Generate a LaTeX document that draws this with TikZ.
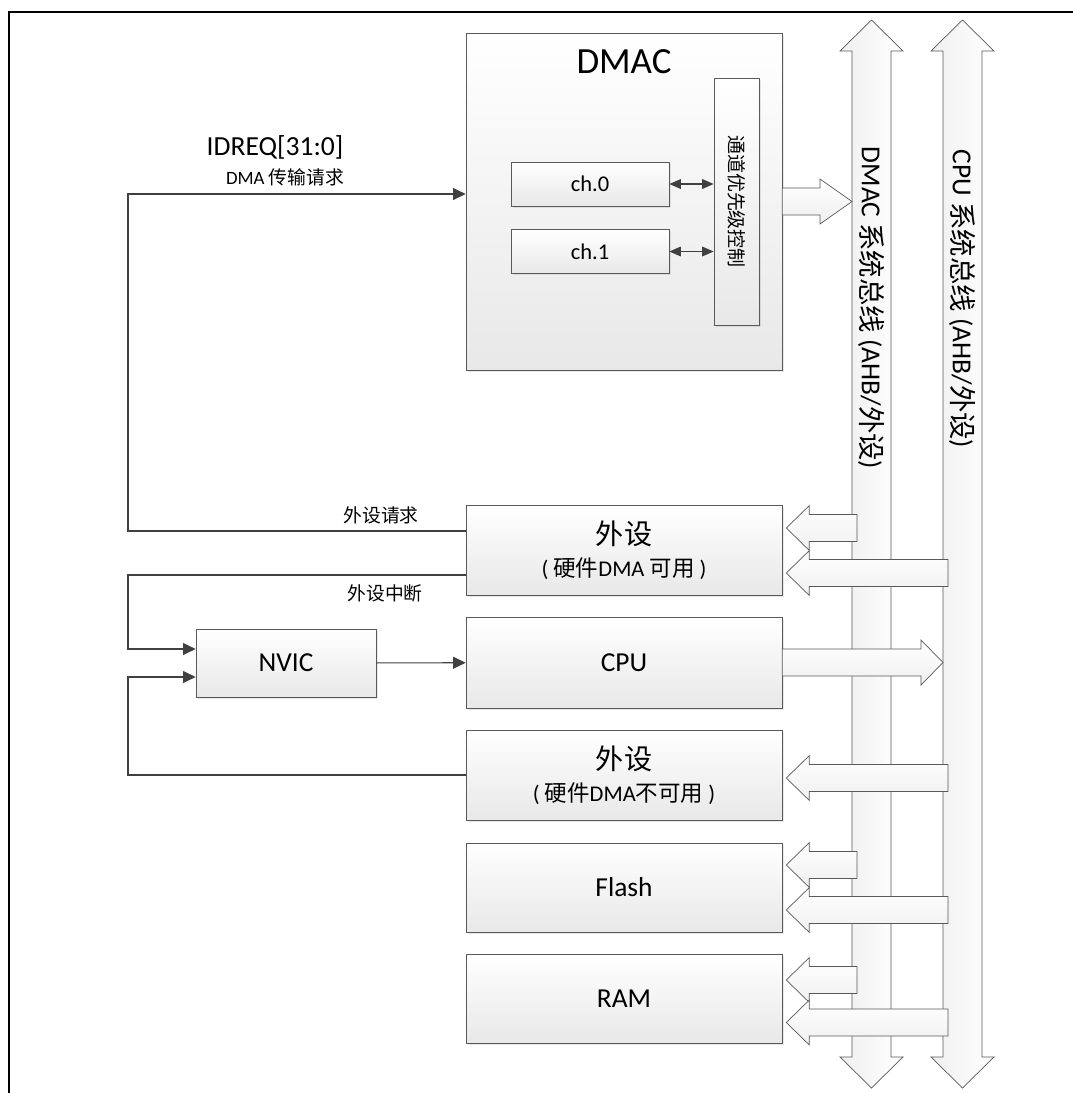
\documentclass[tikz,border=0pt]{standalone}
\usepackage{fontspec}
\setmainfont{Carlito}
\newfontfamily\cjk{Noto Sans CJK SC}
\usetikzlibrary{arrows.meta,calc,shadows}
\newcommand{\fsz}[1]{\fontsize{#1}{18}\selectfont}
% block arrow from a bus (#2) to the east side of a box (#1), #3 = offset from box centre
\newcommand{\busin}[3]{\draw[fat] let \p1=($(#1.east)+(4,#3)$), \p2=(#2) in
  (\p1) -- ++(23,-22.5) -- ++(0,9) -- ($(\x2,\y1)+(5,-13.5)$) -- ($(\x2,\y1)+(5,13.5)$)
  -- ($(\p1)+(23,13.5)$) -- ++(0,9) -- cycle;}
% block arrow from a box side (#1) to a bus (#2), #3 = head length
\newcommand{\busout}[3]{\draw[fat] let \p1=(#1), \p2=(#2) in
  (\x2,\y1) -- ++(-#3,22.5) -- ++(0,-9) -- ($(\p1)+(0,13.5)$) -- ($(\p1)+(0,-13.5)$)
  -- ($(\x2,\y1)+(-#3,-13.5)$) -- ++(0,-9) -- cycle;}
\tikzset{
  blk/.style={draw=black!65, top color=white, bottom color=gray!18, inner sep=0pt, align=center,
    drop shadow={shadow xshift=1pt, shadow yshift=-1pt, opacity=0.18}},
  arr/.style={draw=black!75, line width=0.6pt, -{Triangle[length=7.2pt, width=6.8pt]}},
  darr/.style={draw=black!75, line width=0.6pt, {Triangle[length=6.5pt, width=5.5pt]}-{Triangle[length=6.5pt, width=5.5pt]}},
  fat/.style={draw=black!65, top color=white, bottom color=gray!12},
  bus/.style={draw=black!65, left color=gray!12, right color=white},
  lbl/.style={font=\fsz{10.7}\cjk},
}
\begin{document}
\begin{tikzpicture}[x=0.02cm, y=-0.02cm]
  \useasboundingbox (0,0) rectangle (1073,1093);
  \draw[line width=1.5pt] (9,1093) -- (9,12) -- (1073,12);
  % buses
  \foreach \cx in {871.5,962.5}
    \draw[bus] (\cx,20) -- ++(31.5,31) -- ++(-12,0) -- (\cx+19.5,1057) -- ++(12,0) -- (\cx,1088)
      -- ++(-31.5,-31) -- ++(12,0) -- (\cx-19.5,51) -- ++(-12,0) -- cycle;
  \coordinate (dbus) at (852,0);
  \coordinate (cbus) at (943,0);
  \node[rotate=-90, font=\fsz{15.6}] (dbuslbl) at (871.5,308) {DMAC {\cjk 系统总线} (AHB/{\cjk 外设})};
  \node[rotate=-90, font=\fsz{15.6}] (cbuslbl) at (962.5,299) {CPU {\cjk 系统总线} (AHB/{\cjk 外设})};
  % DMAC
  \node[blk, minimum width=6.32cm, minimum height=6.74cm] (dmac) at (624,201.5) {};
  \node[font=\fsz{21}] (dmactitle) at (624,62) {DMAC};
  \node[blk, minimum width=3.16cm, minimum height=0.88cm, font=\fsz{12.8}] (ch0) at (590,184) {ch.0};
  \node[blk, minimum width=3.16cm, minimum height=0.88cm, font=\fsz{12.8}] (ch1) at (590,251.5) {ch.1};
  \node[blk, minimum width=0.9cm, minimum height=4.94cm] (prio) at (736.5,201.5) {};
  \node[rotate=-90, font=\fsz{10.8}\cjk] (priolbl) at (prio) {通道优先级控制};
  \draw[darr] (ch0) -- (ch0 -| prio.west);
  \draw[darr] (ch1) -- (ch1 -| prio.west);
  % boxes
  \node[blk, minimum width=6.32cm, minimum height=1.8cm, font=\fsz{12.8}] (per1) at (624,550)
    {{\fsz{16}\cjk 外设}\\( {\cjk 硬件}DMA {\cjk 可用} )};
  \node[blk, minimum width=6.32cm, minimum height=1.82cm, font=\fsz{15.6}] (cpu) at (624,662.5) {CPU};
  \node[blk, minimum width=6.32cm, minimum height=1.8cm, font=\fsz{12.8}] (per2) at (624,775)
    {{\fsz{16}\cjk 外设}\\( {\cjk 硬件}DMA{\cjk 不可用} )};
  \node[blk, minimum width=6.32cm, minimum height=1.78cm, font=\fsz{15.6}] (flash) at (624,887.5) {Flash};
  \node[blk, minimum width=6.32cm, minimum height=1.78cm, font=\fsz{15.6}] (ram) at (624,999) {RAM};
  \node[blk, minimum width=3.6cm, minimum height=1.36cm, font=\fsz{15.6}] (nvic) at (286,663) {NVIC};
  % block arrows to and from the buses
  \busout{dmac.east}{dbus}{32}
  \busout{cpu.east}{cbus}{22}
  \busin{per1}{dbus}{-22}
  \busin{per1}{cbus}{23}
  \busin{per2}{cbus}{3}
  \busin{flash}{dbus}{-22.5}
  \busin{flash}{cbus}{22.5}
  \busin{ram}{dbus}{-19}
  \busin{ram}{cbus}{23.5}
  % request and interrupt lines
  \coordinate (lft) at (128,0);
  \coordinate (p1req) at ($(per1.west)+(0,-19)$);
  \coordinate (p1int) at ($(per1.west)+(0,25)$);
  \draw[arr] (p1req) -- (p1req -| lft) |- ($(dmac.west)+(0,-7.5)$);
  \draw[arr] (p1int) -- (p1int -| lft) |- ($(nvic.west)+(0,-14)$);
  \draw[arr] (per2.west) -- (per2.west -| lft) |- ($(nvic.west)+(0,14)$);
  \draw[arr] (nvic) -- (cpu);
  \node[font=\fsz{15.7}] (idreq) at (275,147) {IDREQ[31:0]};
  \node[font=\fsz{10.7}] (dmareq) at (285,177) {DMA {\cjk 传输请求}};
  \node[lbl] (reqlbl) at (381,515) {外设请求};
  \node[lbl] (intlbl) at (385,593) {外设中断};
\end{tikzpicture}
\end{document}
